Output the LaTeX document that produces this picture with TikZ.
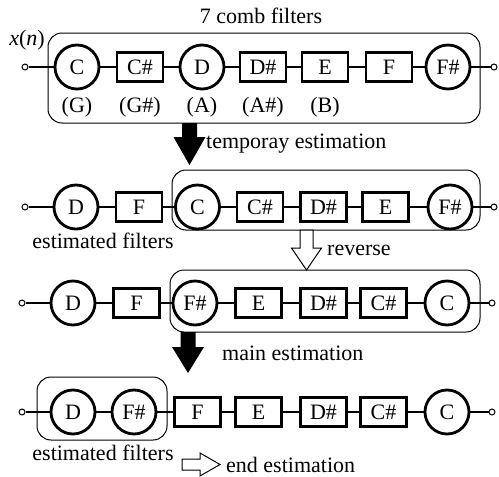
\documentclass[tikz,border=0pt]{standalone}
\usepackage{fontspec}
\setmainfont{Liberation Serif}
\begin{document}
\begin{tikzpicture}[x=1pt,y=-1pt,
  font=\fontsize{22}{25}\selectfont,
  filt/.style={circle, draw, line width=2.8pt, minimum size=44pt, inner sep=0pt, fill=white},
  fbox/.style={rectangle, draw, line width=2.8pt, minimum width=46pt, minimum height=29pt, inner sep=0pt, fill=white},
  term/.style={circle, draw, line width=1pt, minimum size=6pt, inner sep=0pt, fill=white},
  wire/.style={line width=1.4pt},
  group/.style={draw, line width=1pt, rounded corners=14pt},
  lbl/.style={inner sep=0pt, anchor=base},
  lblw/.style={inner sep=0pt, anchor=base west},
  solidarrow/.style={fill=black},
  hollowarrow/.style={draw, fill=white, line width=1pt, line join=miter}]
\useasboundingbox (0,0) rectangle (499,477);

% grouping frames
\draw[group] (48,33) rectangle (480,123);
\draw[group] (172,170) rectangle (480,230);
\draw[group] (170,270) rectangle (480,332);
\draw[group] (37,377) rectangle (167,440);

% row 1: the seven comb filters
\node[term] (i1) at (25,67) {};
\node[filt] (r1a) at (77,67) {C};
\node[fbox] (r1b) at (140,67) {C\#};
\node[filt] (r1c) at (202,67) {D};
\node[fbox] (r1d) at (263,67) {D\#};
\node[fbox] (r1e) at (325,67) {E};
\node[fbox] (r1f) at (389,67) {F};
\node[filt] (r1g) at (448,67) {F\#};
\node[term] (o1) at (494,67) {};
\draw[wire] (i1) -- (r1a) -- (r1b) -- (r1c) -- (r1d) -- (r1e) -- (r1f) -- (r1g) -- (o1);

% row 2
\node[term] (i2) at (25,207) {};
\node[filt] (r2a) at (76,207) {D};
\node[fbox] (r2b) at (139,207) {F};
\node[filt] (r2c) at (197.5,207) {C};
\node[fbox] (r2d) at (260,207) {C\#};
\node[fbox] (r2e) at (323.5,207) {D\#};
\node[fbox] (r2f) at (385.5,207) {E};
\node[filt] (r2g) at (450,207) {F\#};
\node[term] (o2) at (494,207) {};
\draw[wire] (i2) -- (r2a) -- (r2b) -- (r2c) -- (r2d) -- (r2e) -- (r2f) -- (r2g) -- (o2);

% row 3
\node[term] (i3) at (22,303) {};
\node[filt] (r3a) at (73,303) {D};
\node[fbox] (r3b) at (136.5,303) {F};
\node[filt] (r3c) at (195,303) {F\#};
\node[fbox] (r3d) at (258.5,303) {E};
\node[fbox] (r3e) at (323.5,303) {D\#};
\node[fbox] (r3f) at (383.5,303) {C\#};
\node[filt] (r3g) at (447,303) {C};
\node[term] (o3) at (492,303) {};
\draw[wire] (i3) -- (r3a) -- (r3b) -- (r3c) -- (r3d) -- (r3e) -- (r3f) -- (r3g) -- (o3);

% row 4
\node[term] (i4) at (22,412) {};
\node[filt] (r4a) at (73,412) {D};
\node[filt] (r4b) at (134,412) {F\#};
\node[fbox] (r4c) at (197.5,412) {F};
\node[fbox] (r4d) at (258.5,412) {E};
\node[fbox] (r4e) at (323.5,412) {D\#};
\node[fbox] (r4f) at (383.5,412) {C\#};
\node[filt] (r4g) at (447,412) {C};
\node[term] (o4) at (492,412) {};
\draw[wire] (i4) -- (r4a) -- (r4b) -- (r4c) -- (r4d) -- (r4e) -- (r4f) -- (r4g) -- (o4);

% texts
\node[lbl] (title) at (261,23) {7 comb filters};
\node[lbl] (xn) at (27,45) {\textit{x}(\textit{n})};
\node[lbl] (g1) at (77,112) {(G)};
\node[lbl] (g2) at (140,112) {(G\#)};
\node[lbl] (g3) at (202,112) {(A)};
\node[lbl] (g4) at (263,112) {(A\#)};
\node[lbl] (g5) at (325,112) {(B)};
\node[lblw] (t1) at (206,148) {temporay estimation};
\node[lbl] (t2) at (103,248) {estimated filters};
\node[lblw] (t3) at (327,255) {reverse};
\node[lblw] (t4) at (222,360) {main estimation};
\node[lbl] (t5) at (103,460) {estimated filters};
\node[lblw] (t6) at (226,472) {end estimation};

% block arrows between the stages
\coordinate (a1) at (189.5,123);
\fill[solidarrow] (a1) ++(-7.5,0) -- ++(15,0) -- ++(0,14) -- ++(8.5,0) -- ++(-16,28) -- ++(-16,-28) -- ++(8.5,0) -- cycle;
\coordinate (a2) at (306.5,230);
\path[hollowarrow] (a2) ++(-6.5,0) -- ++(13,0) -- ++(0,18) -- ++(8.5,0) -- ++(-15,22) -- ++(-15,-22) -- ++(8.5,0) -- cycle;
\coordinate (a3) at (188,332);
\fill[solidarrow] (a3) ++(-7.5,0) -- ++(15,0) -- ++(0,15) -- ++(8.5,0) -- ++(-16,26) -- ++(-16,-26) -- ++(8.5,0) -- cycle;
\coordinate (a4) at (182,459);
\path[hollowarrow] (a4) -- ++(18,0) -- ++(0,-6) -- ++(20,11.5) -- ++(-20,11.5) -- ++(0,-6) -- ++(-18,0) -- cycle;
\end{tikzpicture}
\end{document}
